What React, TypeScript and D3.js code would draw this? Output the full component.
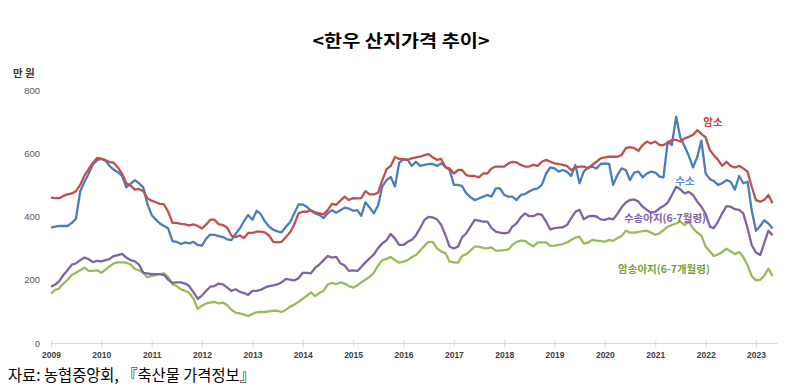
import React, { useEffect, useRef } from "react";
import * as d3 from "d3";

// monthly prices (만 원), Jan 2009 - May 2023
const cowPrices = [
  460, 458, 458, 465, 470, 473, 480, 500, 530, 550, 570, 585,
  582, 578, 572, 570, 555, 535, 505, 498, 485, 487, 480, 458,
  450, 445, 440, 438, 415, 380, 380, 377, 375, 372, 375, 370,
  362, 375, 390, 390, 376, 373, 365, 340, 335, 340, 332, 348,
  348, 352, 352, 350, 340, 320, 318, 320, 335, 350, 375, 410,
  415, 415, 420, 413, 410, 407, 420, 440, 437, 450, 463, 452,
  458, 457, 458, 480, 470, 470, 475, 515, 550, 560, 588, 582,
  581, 579, 584, 587, 589, 594, 597, 587, 579, 582, 555, 552,
  536, 547, 547, 531, 528, 528, 524, 536, 536, 552, 558, 558,
  558, 568, 573, 571, 563, 558, 558, 563, 560, 573, 579, 573,
  568, 566, 563, 560, 547, 555, 558, 558, 552, 563, 573, 584,
  587, 589, 589, 589, 594, 616, 619, 616, 608, 626, 637, 631,
  637, 626, 626, 633, 642, 642, 637, 647, 652, 658, 673, 661,
  650, 610, 594, 579, 560, 573, 560, 555, 560, 552, 542, 494,
  452, 447, 452, 468, 442,
];

const bullPrices = [
  365, 368, 370, 370, 370, 380, 393, 480, 510, 535, 565, 577,
  583, 576, 560, 548, 540, 528, 492, 503, 515, 505, 492, 440,
  405, 390, 378, 370, 362, 322, 320, 313, 318, 315, 320, 310,
  308, 330, 343, 342, 338, 335, 328, 325, 345, 362, 385, 405,
  390, 418, 408, 385, 368, 358, 353, 350, 368, 382, 410, 438,
  438, 430, 418, 410, 405, 395, 410, 420, 412, 420, 428, 425,
  418, 420, 402, 445, 428, 410, 435, 495, 515, 525, 495, 570,
  581, 579, 560, 573, 560, 563, 566, 566, 560, 568, 558, 547,
  500, 500, 496, 473, 461, 452, 457, 463, 468, 463, 489, 489,
  468, 463, 463, 452, 468, 471, 479, 486, 489, 500, 536, 555,
  552, 542, 547, 542, 528, 563, 505, 542, 555, 558, 552, 566,
  568, 566, 500, 531, 552, 547, 515, 539, 542, 524, 536, 542,
  539, 526, 524, 637, 626, 716, 650, 622, 592, 555, 588, 640,
  536, 518, 512, 500, 505, 515, 510, 485, 528, 505, 510, 420,
  355, 370, 388, 378, 362,
];

const maleCalfPrices = [
  178, 185, 195, 215, 230, 248, 252, 262, 270, 265, 256, 260,
  258, 262, 265, 275, 278, 282, 270, 262, 258, 248, 222, 220,
  218, 218, 218, 215, 200, 190, 192, 192, 188, 180, 160, 140,
  150, 165, 178, 180, 188, 185, 176, 165, 170, 162, 158, 152,
  165, 165, 168, 175, 180, 182, 185, 192, 203, 200, 198, 205,
  222, 222, 220, 238, 248, 262, 275, 270, 272, 252, 245, 228,
  230, 228, 240, 255, 268, 280, 300, 315, 325, 345, 330, 310,
  310, 320, 326, 341, 363, 389, 399, 397, 391, 373, 341, 305,
  299, 305, 334, 347, 368, 389, 387, 384, 384, 363, 352, 349,
  347, 349, 368, 378, 397, 410, 401, 401, 408, 405, 384, 359,
  363, 365, 366, 373, 394, 415, 421, 391, 400, 402, 400, 391,
  389, 394, 391, 408, 429, 444, 452, 454, 447, 431, 421, 412,
  415, 426, 433, 444, 468, 494, 486, 473, 478, 468, 447, 431,
  408, 368, 363, 384, 410, 433, 431, 423, 421, 410, 363, 310,
  286, 278, 315, 355, 341,
];

const femaleCalfPrices = [
  157, 168, 172, 188, 200, 215, 222, 230, 238, 228, 228, 230,
  222, 232, 242, 252, 255, 255, 254, 248, 234, 230, 222, 208,
  212, 215, 218, 220, 208, 186, 180, 170, 165, 158, 140, 108,
  118, 125, 128, 130, 125, 128, 120, 105, 96, 94, 90, 85,
  92, 97, 98, 98, 100, 102, 102, 98, 105, 115, 122, 130,
  140, 150, 160, 148, 158, 165, 185, 190, 186, 192, 188, 180,
  175, 182, 192, 200, 210, 222, 245, 262, 266, 272, 262, 254,
  257, 262, 271, 278, 292, 307, 320, 320, 299, 289, 284, 257,
  255, 254, 275, 281, 292, 305, 305, 301, 299, 302, 292, 292,
  294, 296, 310, 320, 324, 323, 313, 305, 318, 318, 318, 307,
  308, 310, 313, 318, 326, 333, 336, 315, 317, 326, 324, 323,
  320, 326, 323, 331, 338, 355, 349, 349, 351, 354, 355, 349,
  342, 347, 357, 368, 373, 378, 384, 373, 384, 363, 349, 340,
  305, 289, 275, 280, 288, 298, 290, 281, 288, 272, 245, 212,
  198, 200, 212, 235, 212,
];

const yTicks = [0, 200, 400, 600, 800];

const seriesList = [
  { name: "암소", values: cowPrices, color: "#C0504D" },
  { name: "수소", values: bullPrices, color: "#4A7EBB" },
  { name: "수송아지", values: maleCalfPrices, color: "#8064A2" },
  { name: "암송아지", values: femaleCalfPrices, color: "#9BBB59" },
];

const W = 789;
const H = 390;
const KR = "'Noto Sans CJK KR', 'Noto Sans', sans-serif";

const App = () => {
  const svgRef = useRef<SVGSVGElement>(null);

  useEffect(() => {
    const svg = d3.select(svgRef.current);
    svg.selectAll("*").remove();

    const x = d3
      .scaleTime()
      .domain([new Date(2009, 0, 1), new Date(2023, 5, 1)])
      .range([51, 776.8]);
    const y = d3.scaleLinear().domain([0, 800]).range([343, 90]);

    const dateOf = (i: number) => new Date(2009, i, 1);

    // title
    svg
      .append("text")
      .attr("x", 401)
      .attr("y", 47)
      .attr("text-anchor", "middle")
      .attr("font-family", KR)
      .attr("font-weight", "bold")
      .attr("font-size", 17)
      .attr("textLength", 177)
      .attr("lengthAdjust", "spacingAndGlyphs")
      .attr("fill", "#000")
      .text("<한우 산지가격 추이>");

    // unit
    svg
      .append("text")
      .attr("x", 13)
      .attr("y", 77)
      .attr("font-family", KR)
      .attr("font-weight", "bold")
      .attr("font-size", 10.5)
      .attr("fill", "#333")
      .text("만 원");

    // y labels
    svg
      .append("g")
      .selectAll("text")
      .data(yTicks)
      .enter()
      .append("text")
      .attr("x", 40)
      .attr("y", (d) => y(d) + 3.5)
      .attr("text-anchor", "end")
      .attr("font-family", "'Liberation Sans', Arial, sans-serif")
      .attr("font-size", 9.5)
      .attr("fill", "#595959")
      .text((d) => d);

    // x axis
    const xAxis = svg
      .append("g")
      .attr("transform", `translate(0, ${y(0)})`)
      .call(
        d3
          .axisBottom(x)
          .ticks(d3.timeYear.every(1))
          .tickFormat(d3.timeFormat("%Y") as any)
          .tickSizeInner(4)
          .tickSizeOuter(0)
          .tickPadding(5)
      );
    xAxis.select(".domain").attr("stroke", "#D9D9D9").attr("stroke-width", 1.2);
    xAxis.selectAll(".tick line").attr("stroke", "#D9D9D9").attr("y1", -3);
    xAxis
      .selectAll(".tick text")
      .attr("font-family", "'Liberation Sans', Arial, sans-serif")
      .attr("font-weight", "bold")
      .attr("font-size", 8.5)
      .attr("fill", "#404040");

    // lines
    const line = d3
      .line<number>()
      .x((d, i) => x(dateOf(i)))
      .y((d) => y(d));

    svg
      .append("g")
      .selectAll("path")
      .data(seriesList.slice().reverse())
      .enter()
      .append("path")
      .attr("d", (s) => line(s.values))
      .attr("fill", "none")
      .attr("stroke", (s) => s.color)
      .attr("stroke-width", 2.3)
      .attr("stroke-linejoin", "round");

    // series labels
    const labels = [
      { text: "암소", x: 713, y: 126, color: "#D03A3A" },
      { text: "수소", x: 685, y: 185, color: "#5B8FD0" },
      { text: "수송아지(6-7월령)", x: 665, y: 222, color: "#7F5FA8" },
      { text: "암송아지(6-7개월령)", x: 664, y: 273, color: "#77A03C" },
    ];
    svg
      .append("g")
      .selectAll("text")
      .data(labels)
      .enter()
      .append("text")
      .attr("x", (d) => d.x)
      .attr("y", (d) => d.y)
      .attr("text-anchor", "middle")
      .attr("font-family", KR)
      .attr("font-weight", "bold")
      .attr("font-size", 10.5)
      .attr("fill", (d) => d.color)
      .text((d) => d.text);

    // source
    svg
      .append("text")
      .attr("x", 8)
      .attr("y", 381)
      .attr("font-family", KR)
      .attr("font-size", 16)
      .attr("textLength", 247)
      .attr("lengthAdjust", "spacingAndGlyphs")
      .attr("fill", "#000")
      .text("자료: 농협중앙회, 『축산물 가격정보』");
  }, []);

  return (
    <svg
      ref={svgRef}
      width={W}
      height={H}
      style={{ position: "absolute", left: 0, top: 0, background: "#fff" }}
    />
  );
};

export default App;
